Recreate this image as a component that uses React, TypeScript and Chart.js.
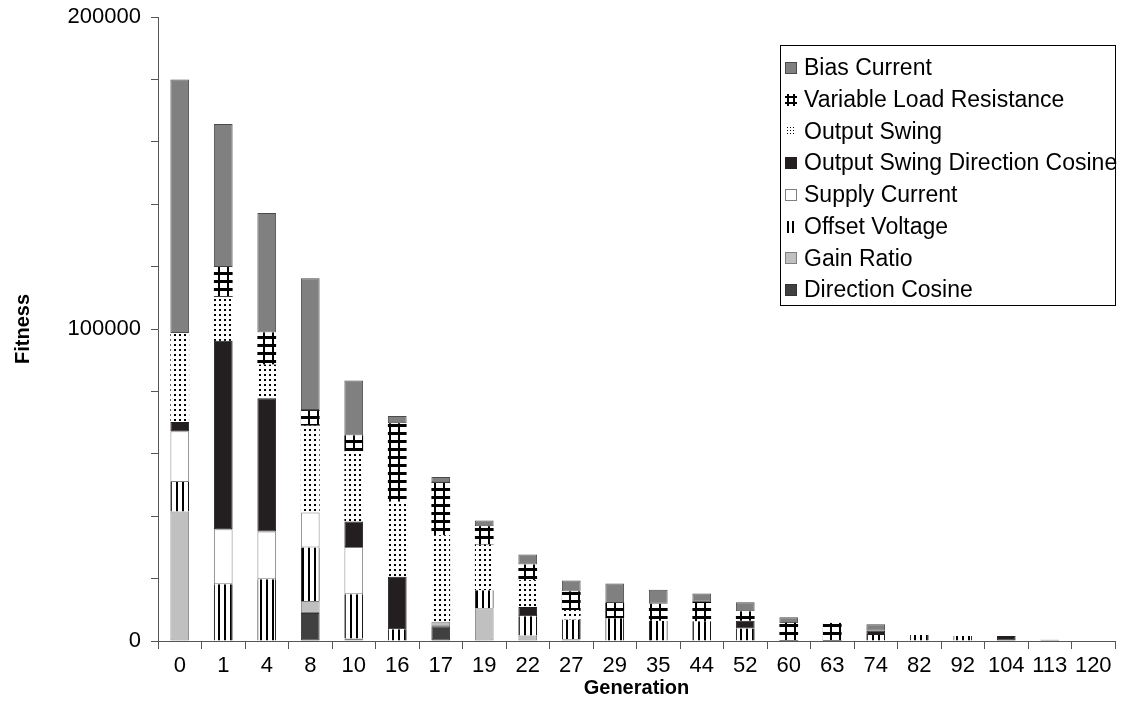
import React, { useEffect, useRef } from "react";
import { Chart, registerables } from "chart.js";

Chart.register(...registerables);

const generations = ["0", "1", "4", "8", "10", "16", "17", "19", "22", "27", "29", "35", "44", "52", "60", "63", "74", "82", "92", "104", "113", "120"];

const directionCosine = [0, 0, 0, 9000, 0, 0, 4700, 0, 0, 0, 0, 0, 0, 0, 0, 0, 0, 0, 0, 0, 0, 0];
const gainRatio = [41500, 0, 0, 3800, 800, 0, 1500, 10500, 1800, 600, 0, 0, 0, 0, 0, 0, 0, 0, 0, 0, 0, 0];
const offsetVoltage = [9500, 18200, 19800, 17200, 14200, 3800, 0, 5800, 6100, 6300, 7300, 6500, 6300, 4000, 0, 0, 1900, 1900, 1600, 0, 0, 0];
const supplyCurrent = [16200, 17600, 15300, 11200, 15100, 0, 0, 0, 0, 0, 0, 0, 0, 0, 0, 0, 0, 0, 0, 0, 0, 0];
const outputSwingDirectionCosine = [3000, 60400, 42700, 0, 8200, 16800, 0, 0, 3000, 0, 0, 0, 0, 2500, 0, 0, 1500, 0, 0, 1600, 400, 0];
const outputSwing = [28500, 14100, 10800, 27800, 22500, 24000, 27700, 14600, 8600, 3000, 0, 0, 0, 0, 0, 0, 0, 0, 0, 0, 0, 0];
const variableLoadResistance = [0, 9600, 10300, 5000, 5100, 25200, 17000, 5900, 5000, 6000, 4900, 5400, 6300, 3000, 5800, 5800, 0, 0, 0, 0, 0, 0];
const biasCurrent = [81300, 45800, 38300, 42300, 17600, 2300, 1700, 1800, 3200, 3500, 6200, 4500, 2600, 2900, 1800, 0, 2000, 0, 0, 0, 0, 0];

const yTickValues = [0, 100000, 200000];

function makePattern(kind: string): CanvasPattern | string {
  const tile = document.createElement("canvas");
  const c = tile.getContext("2d")!;
  if (kind === "dots") {
    tile.width = 5; tile.height = 5;
    c.fillStyle = "#fff"; c.fillRect(0, 0, 5, 5);
    c.fillStyle = "#000"; c.fillRect(1, 1, 2, 2);
  } else if (kind === "vlines") {
    tile.width = 6; tile.height = 6;
    c.fillStyle = "#fff"; c.fillRect(0, 0, 6, 6);
    c.fillStyle = "#000"; c.fillRect(0, 0, 2, 6);
  } else {
    tile.width = 9; tile.height = 8;
    c.fillStyle = "#fff"; c.fillRect(0, 0, 9, 8);
    c.fillStyle = "#000"; c.fillRect(0, 0, 9, 3); c.fillRect(3, 0, 2, 8);
  }
  const p = document.createElement("canvas").getContext("2d")!.createPattern(tile, "repeat");
  return p || "#fff";
}

function drawSwatch(ctx: CanvasRenderingContext2D, d: any, sx: number, sy: number) {
  const kind = d.swatch;
  ctx.fillStyle = "#000";
  if (kind === "ladder") {
    ctx.fillRect(sx + 2, sy, 2, 12);
    ctx.fillRect(sx + 8, sy, 2, 12);
    ctx.fillRect(sx, sy + 2, 12, 2);
    ctx.fillRect(sx, sy + 8, 12, 2);
  } else if (kind === "dots") {
    for (let i = 0; i < 3; i++) for (let j = 0; j < 3; j++) ctx.fillRect(sx + 2 + i * 3, sy + 2 + j * 3, 1, 1);
  } else if (kind === "vlines") {
    ctx.fillRect(sx + 2, sy, 2, 12);
    ctx.fillRect(sx + 7, sy, 2, 12);
  } else {
    ctx.fillStyle = d.backgroundColor;
    ctx.fillRect(sx, sy, 12, 12);
    ctx.strokeStyle = d.borderColor;
    ctx.lineWidth = 1;
    ctx.strokeRect(sx + 0.5, sy + 0.5, 11, 11);
  }
}

export default function App() {
  const ref = useRef<HTMLCanvasElement>(null);
  useEffect(() => {
    const dots = makePattern("dots");
    const vlines = makePattern("vlines");
    const ladder = makePattern("ladder");
    const ds = (label: string, data: number[], bg: any, border: string, bw: any, swatch: string) => ({
      label, data, backgroundColor: bg, borderColor: border, borderWidth: bw, borderSkipped: false,
      barPercentage: 0.43, categoryPercentage: 1, swatch,
    });
    const datasets = [
      ds("Direction Cosine", directionCosine, "#404040", "#333333", 1, "solid"),
      ds("Gain Ratio", gainRatio, "#c0c0c0", "#808080", 1, "solid"),
      ds("Offset Voltage", offsetVoltage, vlines, "#000", { left: 1, right: 1, top: 0, bottom: 0 }, "vlines"),
      ds("Supply Current", supplyCurrent, "#ffffff", "#808080", 1, "solid"),
      ds("Output Swing Direction Cosine", outputSwingDirectionCosine, "#231f20", "#231f20", 1, "solid"),
      ds("Output Swing", outputSwing, dots, "#000", 0, "dots"),
      ds("Variable Load Resistance", variableLoadResistance, ladder, "#000", 0, "ladder"),
      ds("Bias Current", biasCurrent, "#808080", "#4a4a4a", 1, "solid"),
    ];
    const legendPlugin = {
      id: "boxLegend",
      afterDraw(chart: any) {
        const ctx = chart.ctx as CanvasRenderingContext2D;
        const x0 = 772, y0 = 37, w = 335, h = 260;
        ctx.save();
        ctx.fillStyle = "#fff";
        ctx.fillRect(x0, y0, w, h);
        ctx.strokeStyle = "#000";
        ctx.lineWidth = 1;
        ctx.strokeRect(x0 + 0.5, y0 + 0.5, w, h);
        const items = [...chart.data.datasets].reverse();
        ctx.font = "23px 'Liberation Sans', Arial, sans-serif";
        ctx.textBaseline = "middle";
        ctx.textAlign = "left";
        items.forEach((d: any, i: number) => {
          const cy = 60 + i * 31.7;
          drawSwatch(ctx, d, 777, Math.round(cy - 6));
          ctx.fillStyle = "#000";
          ctx.fillText(d.label, 796, cy + 1);
        });
        ctx.restore();
      },
    };
    const tickFont = { family: "'Liberation Sans', Arial, sans-serif", size: 22, lineHeight: 1 };
    const titleFont = { family: "'Liberation Sans', Arial, sans-serif", size: 20, weight: "bold" as const, lineHeight: 1.2 };
    const chart = new Chart(ref.current!, {
      type: "bar",
      data: { labels: generations, datasets: datasets as any },
      options: {
        responsive: false,
        animation: false,
        layout: { padding: { top: 9, right: 5, left: 0, bottom: 0 } },
        plugins: { legend: { display: false }, tooltip: { enabled: false } },
        scales: {
          x: {
            stacked: true,
            grid: { display: true, drawOnChartArea: false, drawTicks: true, tickLength: 8, color: "#555", offset: true },
            border: { color: "#555" },
            ticks: { font: tickFont, color: "#000", padding: 6, maxRotation: 0, autoSkip: false },
            title: { display: true, text: "Generation", font: titleFont, color: "#000", padding: { top: 0, bottom: 8 } },
            afterFit: (s: any) => { s.height = 67; s.paddingLeft = 0; s.paddingRight = 0; },
          },
          y: {
            stacked: true,
            min: 0,
            max: 200000,
            ticks: {
              stepSize: 20000,
              autoSkip: false,
              font: tickFont,
              color: "#000",
              padding: 10,
              callback: (v: any) => (yTickValues.includes(Number(v)) ? String(v) : ""),
            },
            grid: { drawOnChartArea: false, drawTicks: true, tickLength: 7, color: "#555" },
            border: { color: "#555" },
            title: { display: true, text: "Fitness", font: titleFont, color: "#000", padding: { top: 3, bottom: 0 } },
            afterFit: (s: any) => { s.width = 150; s.paddingTop = 0; s.paddingBottom = 0; },
          },
        },
      },
      plugins: [legendPlugin],
    });
    return () => chart.destroy();
  }, []);
  return (
    <div style={{ width: 1112, height: 700 }}>
      <canvas ref={ref} width={1112} height={700} style={{ display: "block" }} />
    </div>
  );
}
